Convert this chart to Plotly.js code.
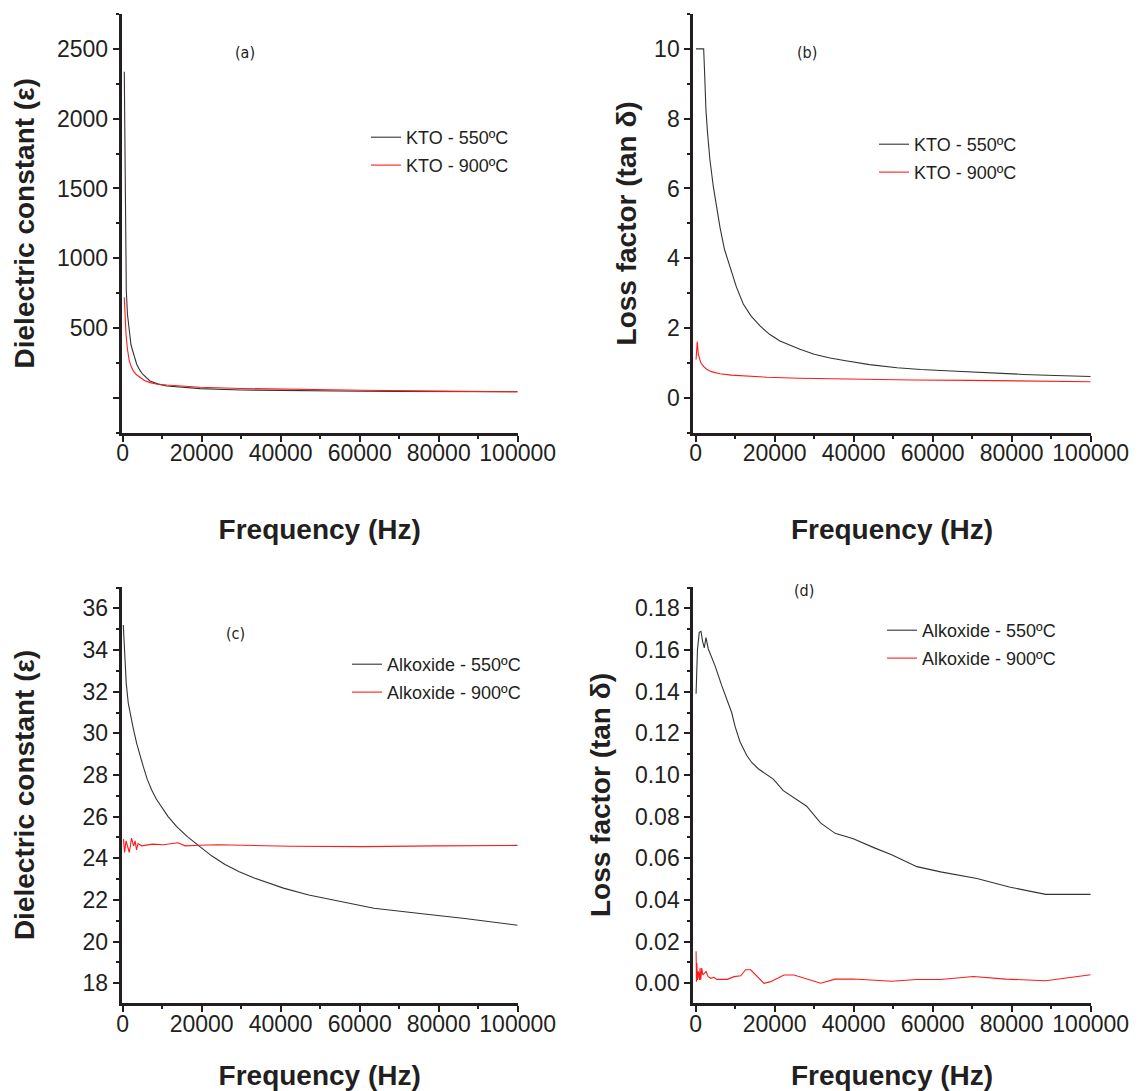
<!DOCTYPE html>
<html>
<head>
<meta charset="utf-8">
<script src="https://cdn.plot.ly/plotly-3.0.1.min.js"></script>
<style>
  html, body { margin: 0; padding: 0; background: #ffffff; }
  #chart { width: 1140px; height: 1091px; }
</style>
</head>
<body>
<div id="chart"></div>
<script>
// ---------- Data ----------
// (a) KTO dielectric constant
const freqA550 = [405, 658, 911, 1200, 1670, 2100, 2530, 3000, 3544, 4300, 5063, 6911, 9000, 11139, 15000, 19570, 30000, 39700, 50000, 60800, 70000, 80000, 90000, 100000];
const epsA550  = [2337, 1176, 768, 600, 457, 380, 337, 290, 241, 200, 169, 121, 98, 85, 74, 66, 56, 52, 49, 47, 46, 45, 44, 43];
const freqA900 = [405, 600, 835, 1200, 1670, 2200, 2690, 3500, 4380, 5500, 6911, 8500, 11139, 15000, 19570, 30000, 39700, 50000, 60800, 80000, 100000];
const epsA900  = [720, 560, 457, 350, 265, 220, 193, 165, 145, 124, 109, 99, 92, 84, 76, 67, 62, 58, 54, 48, 43];

// (b) KTO loss factor
const freqB550 = [100, 1000, 2025, 2300, 2600, 3000, 3620, 4470, 5300, 6150, 7300, 8680, 10300, 12050, 14000, 16300, 18700, 21340, 24000, 26400, 30000, 34000, 38000, 44000, 51000, 57000, 64700, 73000, 83000, 91000, 100000];
const tanB550  = [10, 10, 10, 9.2, 8.25, 7.6, 6.81, 6.05, 5.45, 4.89, 4.25, 3.74, 3.18, 2.69, 2.35, 2.06, 1.82, 1.63, 1.5, 1.39, 1.25, 1.14, 1.06, 0.95, 0.86, 0.81, 0.77, 0.72, 0.67, 0.64, 0.61];
const freqB900 = [100, 400, 670, 1000, 1270, 2000, 2780, 4000, 6150, 9000, 12900, 18000, 26400, 39000, 55000, 69300, 85000, 100000];
const tanB900  = [1.1, 1.61, 1.25, 1.1, 1.01, 0.9, 0.82, 0.75, 0.69, 0.65, 0.62, 0.59, 0.56, 0.53, 0.51, 0.50, 0.48, 0.46];

// (c) Alkoxide dielectric constant
const freqC550 = [150, 350, 580, 900, 1420, 2000, 2680, 3540, 4300, 5220, 6200, 7340, 8500, 9870, 11500, 13670, 16300, 19300, 22500, 25900, 29500, 33300, 37000, 40700, 47100, 55400, 63600, 74700, 86600, 100000];
const epsC550  = [35.2, 34.2, 33.36, 32.4, 31.44, 30.8, 30.24, 29.52, 28.95, 28.4, 27.8, 27.28, 26.85, 26.48, 26.0, 25.52, 25.05, 24.6, 24.12, 23.7, 23.35, 23.05, 22.8, 22.57, 22.24, 21.92, 21.6, 21.36, 21.11, 20.79];
const freqC900 = [200, 480, 850, 1320, 1680, 2230, 2780, 3140, 3510, 3880, 4800, 7560, 10320, 14000, 15800, 19300, 24100, 42500, 60900, 79300, 100000];
const epsC900  = [24.92, 24.28, 24.84, 24.44, 24.28, 24.97, 24.6, 24.84, 24.40, 24.71, 24.60, 24.68, 24.65, 24.75, 24.6, 24.63, 24.65, 24.58, 24.56, 24.6, 24.62];

// (d) Alkoxide loss factor
const freqD550 = [100, 250, 450, 900, 1340, 1770, 2180, 2610, 3200, 4890, 6580, 9110, 9950, 11220, 12910, 14180, 15850, 19650, 22180, 28100, 31600, 35300, 39900, 45400, 49600, 56000, 62000, 71200, 79400, 88600, 100000];
const tanD550  = [0.139, 0.156, 0.160, 0.1685, 0.169, 0.164, 0.161, 0.166, 0.1605, 0.1525, 0.143, 0.130, 0.1235, 0.116, 0.1095, 0.106, 0.103, 0.098, 0.0925, 0.085, 0.077, 0.072, 0.0694, 0.0649, 0.0617, 0.056, 0.0535, 0.0503, 0.0462, 0.0427, 0.0427];
const freqD900 = [100, 200, 300, 450, 700, 950, 1120, 1290, 1540, 1800, 2140, 2640, 3150, 3820, 4660, 5330, 8030, 9710, 11400, 12660, 13930, 17300, 18990, 22360, 24890, 31640, 35300, 39900, 45400, 49600, 56000, 62000, 70300, 78500, 88600, 100000];
const tanD900  = [0.0154, 0.0008, 0.0097, 0.0016, 0.0057, 0.0016, 0.0073, 0.0016, 0.0073, 0.004, 0.0049, 0.0057, 0.0032, 0.0024, 0.0029, 0.0019, 0.0019, 0.0032, 0.0036, 0.0065, 0.0065, 0.0, 0.0008, 0.004, 0.004, 0.0, 0.002, 0.0021, 0.0015, 0.001, 0.0018, 0.0018, 0.0033, 0.002, 0.0012, 0.0041];

// Series names
const namesKTO = ['KTO - 550ºC', 'KTO - 900ºC'];
const namesAlk = ['Alkoxide - 550ºC', 'Alkoxide - 900ºC'];

// Tick labels
const xTickVals = [0, 20000, 40000, 60000, 80000, 100000];
const xTickText = ['0', '20000', '40000', '60000', '80000', '100000'];
const yTickValsA = [0, 500, 1000, 1500, 2000, 2500];
const yTickTextA = ['', '500', '1000', '1500', '2000', '2500'];
const panelLabels = ['(a)', '(b)', '(c)', '(d)'];

// ---------- Styling ----------
const INK = '#231f20';
const BLACK_LINE = '#333333';
const RED_LINE = '#ff1a1a';
const FONT = 'Arial, "Liberation Sans", Helvetica, sans-serif';

function line(x, y, name, color, xa, ya, leg) {
  return {
    x: x, y: y, name: name, type: 'scatter', mode: 'lines',
    line: { color: color, width: 1.1 },
    xaxis: xa, yaxis: ya, legend: leg, legendgroup: leg + name,
    hoverinfo: 'x+y'
  };
}

const traces = [
  line(freqA550, epsA550, namesKTO[0], BLACK_LINE, 'x', 'y', 'legend'),
  line(freqA900, epsA900, namesKTO[1], RED_LINE, 'x', 'y', 'legend'),
  line(freqB550, tanB550, namesKTO[0], BLACK_LINE, 'x2', 'y2', 'legend2'),
  line(freqB900, tanB900, namesKTO[1], RED_LINE, 'x2', 'y2', 'legend2'),
  line(freqC550, epsC550, namesAlk[0], BLACK_LINE, 'x3', 'y3', 'legend3'),
  line(freqC900, epsC900, namesAlk[1], RED_LINE, 'x3', 'y3', 'legend3'),
  line(freqD550, tanD550, namesAlk[0], BLACK_LINE, 'x4', 'y4', 'legend4'),
  line(freqD900, tanD900, namesAlk[1], RED_LINE, 'x4', 'y4', 'legend4')
];

const W = 1140, H = 1091;
const px = v => v / W;
const py = v => 1 - v / H;

const MINOR = { ticks: 'outside', ticklen: 3, tickwidth: 2, tickcolor: INK, showgrid: false, tickmode: 'linear' };

function baseAxis(extra) {
  return Object.assign({
    showline: true, linewidth: 3, linecolor: INK,
    ticks: 'outside', ticklen: 6, tickwidth: 2, tickcolor: INK,
    showgrid: false, zeroline: false, mirror: false,
    tickfont: { family: FONT, size: 23, color: INK },
    tickangle: 0
  }, extra);
}

function xAxis(domain, range, anchor, standoff) {
  return baseAxis({
    domain: domain, range: range, anchor: anchor,
    tickmode: 'array', tickvals: xTickVals, ticktext: xTickText,
    ticklabelstandoff: -8,
    minor: Object.assign({ tick0: 0, dtick: 10000 }, MINOR),
    title: { text: 'Frequency (Hz)', standoff: standoff,
             font: { family: FONT, size: 28, color: INK, weight: 'bold' } }
  });
}

function yTitle(text, standoff) {
  return { text: text, standoff: standoff, font: { family: FONT, size: 28, color: INK, weight: 'bold' } };
}

const domXL = [px(121.7), px(517.7)];
const domXR = [px(693.3), px(1090.7)];
const domYT = [py(432.7), py(14)];
const domYB = [py(1003.3), py(586.7)];

function legendAt(xpx, ypx) {
  return {
    x: px(xpx), y: py(ypx), xanchor: 'left', yanchor: 'top',
    bgcolor: 'rgba(0,0,0,0)', borderwidth: 0,
    font: { family: FONT, size: 18, color: INK },
    tracegroupgap: 1.5, itemwidth: 30
  };
}

function panelLabel(text, xpx, ypx) {
  return {
    text: text, x: px(xpx), y: py(ypx), xref: 'paper', yref: 'paper',
    xanchor: 'center', yanchor: 'middle', showarrow: false,
    font: { family: '"Liberation Sans Narrow", "DejaVu Sans Condensed", sans-serif', size: 16, color: INK }
  };
}

const layout = {
  width: W, height: H,
  margin: { l: 0, r: 0, t: 0, b: 0 },
  paper_bgcolor: '#ffffff', plot_bgcolor: '#ffffff',
  showlegend: true,
  xaxis: xAxis(domXL, [-250, 100000], 'y', 55),
  yaxis: baseAxis({
    domain: domYT, range: [-250, 2750], anchor: 'x',
    tickmode: 'array', tickvals: yTickValsA, ticktext: yTickTextA,
    minor: Object.assign({ tick0: 0, dtick: 250 }, MINOR),
    title: yTitle('Dielectric constant (ε)', 15)
  }),
  xaxis2: xAxis(domXR, [-600, 100000], 'y2', 55),
  yaxis2: baseAxis({
    domain: domYT, range: [-1, 11], anchor: 'x2',
    tickmode: 'linear', tick0: 0, dtick: 2,
    minor: Object.assign({ tick0: 0, dtick: 1 }, MINOR),
    title: yTitle('Loss factor (tan δ)', 10)
  }),
  xaxis3: xAxis(domXL, [-250, 100000], 'y3', 30),
  yaxis3: baseAxis({
    domain: domYB, range: [17.04, 37.04], anchor: 'x3',
    tickmode: 'linear', tick0: 18, dtick: 2,
    minor: Object.assign({ tick0: 17, dtick: 1 }, MINOR),
    title: yTitle('Dielectric constant (ε)', 40)
  }),
  xaxis4: xAxis(domXR, [-600, 100000], 'y4', 30),
  yaxis4: baseAxis({
    domain: domYB, range: [-0.0096, 0.1904], anchor: 'x4',
    tickmode: 'linear', tick0: 0, dtick: 0.02, tickformat: '.2f',
    minor: Object.assign({ tick0: 0, dtick: 0.01 }, MINOR),
    title: yTitle('Loss factor (tan δ)', 17)
  }),
  legend: legendAt(366, 119),
  legend2: legendAt(874, 126),
  legend3: legendAt(347, 646),
  legend4: legendAt(882, 612),
  annotations: [
    panelLabel(panelLabels[0], 245, 52),
    panelLabel(panelLabels[1], 807, 53),
    panelLabel(panelLabels[2], 235, 633),
    panelLabel(panelLabels[3], 804, 590)
  ]
};

Plotly.newPlot('chart', traces, layout, { displayModeBar: false, staticPlot: true });
</script>
</body>
</html>
